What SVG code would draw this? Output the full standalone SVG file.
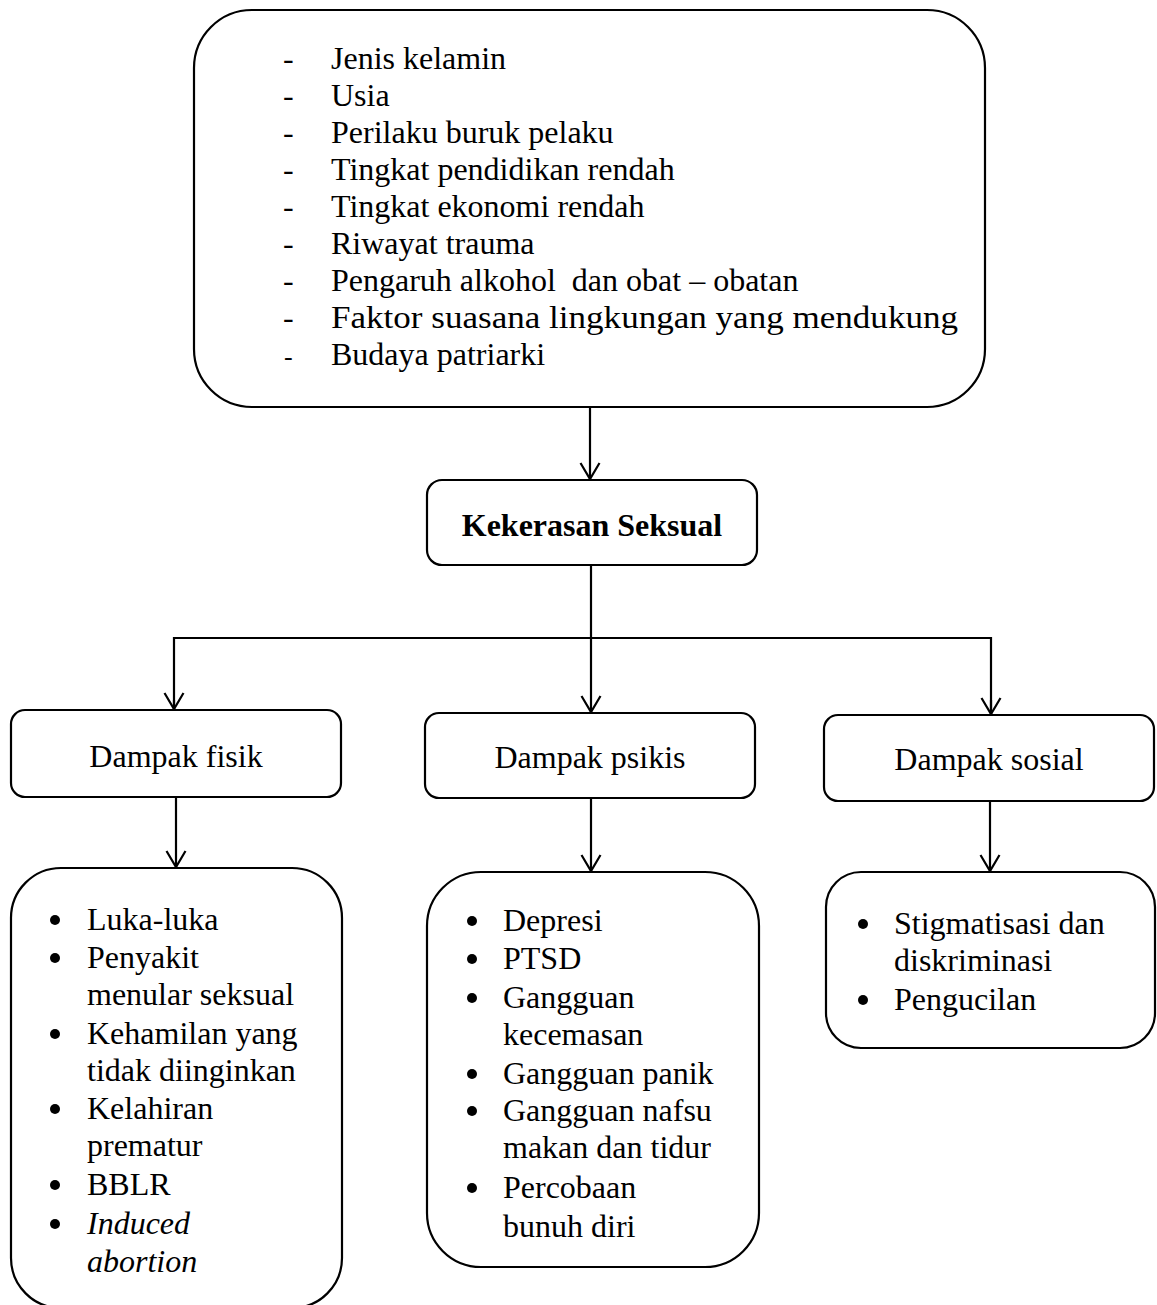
<svg xmlns="http://www.w3.org/2000/svg" width="1157" height="1305" viewBox="0 0 1157 1305">
<style>
.box{fill:#fff;stroke:#000;stroke-width:2.2}
.t{font-family:"Liberation Serif","Times New Roman",serif;font-size:32px;fill:#000}
.b{font-weight:bold}
.i{font-style:italic}
.c{text-anchor:middle}
.con{fill:none;stroke:#000;stroke-width:2.2}
.dot{fill:#000}
</style>
<defs>
<marker id="arr" markerUnits="userSpaceOnUse" markerWidth="20" markerHeight="24" refX="0" refY="0" orient="auto" overflow="visible">
<path d="M -16 -9.5 L 0 0 L -16 9.5" fill="none" stroke="#000" stroke-width="2.2"/>
</marker>
</defs>
<rect width="1157" height="1305" fill="#fff"/>
<g id="connectors">
<line class="con" x1="590" y1="407" x2="590" y2="479" marker-end="url(#arr)"/>
<line class="con" x1="591" y1="565" x2="591" y2="712" marker-end="url(#arr)"/>
<polyline class="con" points="174,709 174,638 991,638 991,714" />
<line class="con" x1="174" y1="700" x2="174" y2="709" marker-end="url(#arr)"/>
<line class="con" x1="991" y1="700" x2="991" y2="714" marker-end="url(#arr)"/>
<line class="con" x1="176" y1="797" x2="176" y2="867" marker-end="url(#arr)"/>
<line class="con" x1="591" y1="798" x2="591" y2="871" marker-end="url(#arr)"/>
<line class="con" x1="990" y1="801" x2="990" y2="871" marker-end="url(#arr)"/>
</g>
<g id="faktor">
<rect class="box" x="194" y="10" width="791" height="397" rx="58"/>
<g class="t">
<text x="283" y="69">-</text><text x="331" y="69">Jenis kelamin</text>
<text x="283" y="106">-</text><text x="331" y="106">Usia</text>
<text x="283" y="143">-</text><text x="331" y="143">Perilaku buruk pelaku</text>
<text x="283" y="180">-</text><text x="331" y="180">Tingkat pendidikan rendah</text>
<text x="283" y="217">-</text><text x="331" y="217">Tingkat ekonomi rendah</text>
<text x="283" y="254">-</text><text x="331" y="254">Riwayat trauma</text>
<text x="283" y="291">-</text><text x="331" y="291" xml:space="preserve">Pengaruh alkohol  dan obat – obatan</text>
<text x="283" y="328">-</text><text x="331" y="328" textLength="627" lengthAdjust="spacingAndGlyphs">Faktor suasana lingkungan yang mendukung</text>
<text x="284" y="365" style="font-size:26px">-</text><text x="331" y="365">Budaya patriarki</text>
</g>
</g>
<g id="kekerasan">
<rect class="box" x="427" y="480" width="330" height="85" rx="15"/>
<text class="t b c" x="592" y="536">Kekerasan Seksual</text>
</g>
<g id="fisik">
<rect class="box" x="11" y="710" width="330" height="87" rx="14"/>
<text class="t c" x="176" y="767">Dampak fisik</text>
</g>
<g id="psikis">
<rect class="box" x="425" y="713" width="330" height="85" rx="14"/>
<text class="t c" x="590" y="768">Dampak psikis</text>
</g>
<g id="sosial">
<rect class="box" x="824" y="715" width="330" height="86" rx="14"/>
<text class="t c" x="989" y="770">Dampak sosial</text>
</g>
<g id="list-fisik">
<rect class="box" x="11" y="868" width="331" height="440" rx="50"/>
<circle class="dot" cx="55" cy="920" r="5"/>
<circle class="dot" cx="55" cy="958" r="5"/>
<circle class="dot" cx="55" cy="1034" r="5"/>
<circle class="dot" cx="55" cy="1109" r="5"/>
<circle class="dot" cx="55" cy="1185" r="5"/>
<circle class="dot" cx="55" cy="1224" r="5"/>
<g class="t">
<text x="87" y="930">Luka-luka</text>
<text x="87" y="968">Penyakit</text>
<text x="87" y="1005">menular seksual</text>
<text x="87" y="1044">Kehamilan yang</text>
<text x="87" y="1081">tidak diinginkan</text>
<text x="87" y="1119">Kelahiran</text>
<text x="87" y="1156">prematur</text>
<text x="87" y="1195">BBLR</text>
<text class="i" x="87" y="1234">Induced</text>
<text class="i" x="87" y="1272">abortion</text>
</g>
</g>
<g id="list-psikis">
<rect class="box" x="427" y="872" width="332" height="395" rx="54"/>
<circle class="dot" cx="472" cy="921" r="5"/>
<circle class="dot" cx="472" cy="959" r="5"/>
<circle class="dot" cx="472" cy="998" r="5"/>
<circle class="dot" cx="472" cy="1074" r="5"/>
<circle class="dot" cx="472" cy="1111" r="5"/>
<circle class="dot" cx="472" cy="1188" r="5"/>
<g class="t">
<text x="503" y="931">Depresi</text>
<text x="503" y="969">PTSD</text>
<text x="503" y="1008">Gangguan</text>
<text x="503" y="1045">kecemasan</text>
<text x="503" y="1084">Gangguan panik</text>
<text x="503" y="1121">Gangguan nafsu</text>
<text x="503" y="1158">makan dan tidur</text>
<text x="503" y="1198">Percobaan</text>
<text x="503" y="1237">bunuh diri</text>
</g>
</g>
<g id="list-sosial">
<rect class="box" x="826" y="872" width="329" height="176" rx="35"/>
<circle class="dot" cx="863" cy="924" r="5"/>
<circle class="dot" cx="863" cy="1000" r="5"/>
<g class="t">
<text x="894" y="934">Stigmatisasi dan</text>
<text x="894" y="971">diskriminasi</text>
<text x="894" y="1010">Pengucilan</text>
</g>
</g>
</svg>
